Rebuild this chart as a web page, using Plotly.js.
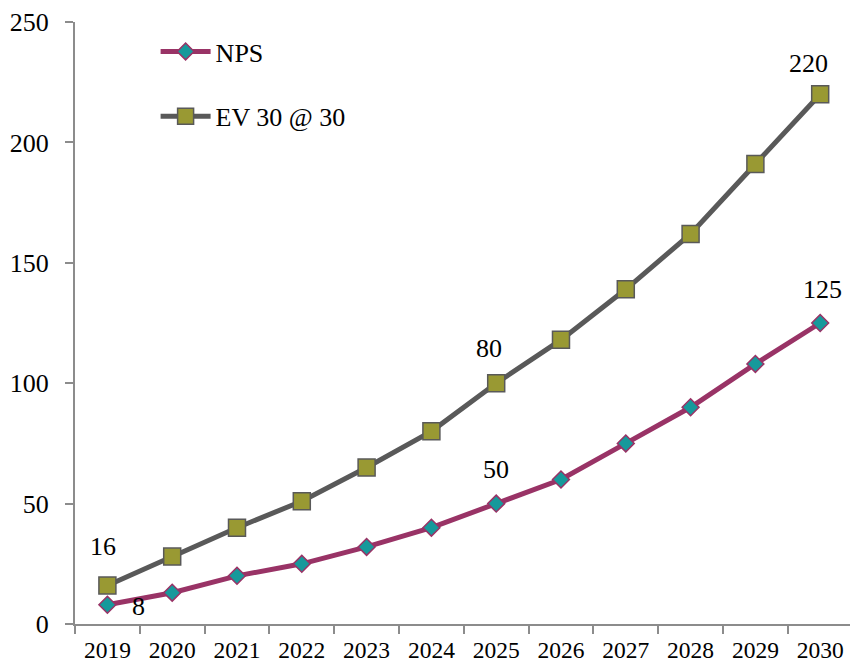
<!DOCTYPE html>
<html>
<head>
<meta charset="utf-8">
<script src="https://cdn.plot.ly/plotly-3.0.1.min.js"></script>
<style>html,body{margin:0;padding:0;background:#fff;}#chart{width:850px;height:665px;}</style>
</head>
<body>
<div id="chart"></div>
<script>
const years = ["2019","2020","2021","2022","2023","2024","2025","2026","2027","2028","2029","2030"];
const npsValues = [8, 13, 20, 25, 32, 40, 50, 60, 75, 90, 108, 125];
const evValues = [16, 28, 40, 51, 65, 80, 100, 118, 139, 162, 191, 220];
const seriesNames = ["NPS", "EV 30 @ 30"];
// data labels shown on the chart: series index, category, label text
const labelSeries = [1, 0, 1, 0, 1, 0];
const labelYears = ["2019", "2019", "2025", "2025", "2030", "2030"];
const labelTexts = ["16", "8", "80", "50", "220", "125"];
const labelShiftX = [-4, 31, -7, 0, -12, 2];
const labelShiftY = [39, -2, 35, 34, 31, 34];

const FONT = "Liberation Serif, Times New Roman, serif";
const seriesValues = [npsValues, evValues];

const traces = [
  {
    x: years, y: npsValues, name: seriesNames[0], type: "scatter", mode: "lines+markers",
    legendgroup: "a",
    line: {color: "#993366", width: 5},
    marker: {symbol: "diamond", size: 13, color: "#16999b", line: {color: "#993366", width: 1.5}}
  },
  {
    x: years, y: evValues, name: seriesNames[1], type: "scatter", mode: "lines+markers",
    legendgroup: "b",
    line: {color: "#595959", width: 5},
    marker: {symbol: "square", size: 17, color: "#999933", line: {color: "#595959", width: 1.5}}
  }
];

const annotations = labelTexts.map(function (t, i) {
  const idx = years.indexOf(labelYears[i]);
  return {
    x: idx,
    y: seriesValues[labelSeries[i]][idx],
    xref: "x", yref: "y",
    text: t, showarrow: false,
    xanchor: "center", yanchor: "middle",
    xshift: labelShiftX[i], yshift: labelShiftY[i],
    font: {family: FONT, size: 26, color: "#000000"}
  };
});

const layout = {
  width: 850, height: 665,
  margin: {l: 75, r: 0, t: 22, b: 41},
  paper_bgcolor: "#fff", plot_bgcolor: "#fff",
  font: {family: FONT, size: 23, color: "#000"},
  showlegend: true,
  legend: {
    x: 0.104, y: 0.99, xanchor: "left", yanchor: "top",
    bgcolor: "rgba(0,0,0,0)", tracegroupgap: 28,
    traceorder: "grouped", itemwidth: 50,
    font: {family: FONT, size: 26, color: "#000"}
  },
  xaxis: {
    type: "category", range: [-0.5, 11.46],
    showline: true, linecolor: "#8c8c8c", linewidth: 2,
    ticks: "outside", tickson: "boundaries", ticklen: 8, tickwidth: 2, tickcolor: "#8c8c8c",
    showgrid: false, zeroline: false,
    tickfont: {family: FONT, size: 23.5, color: "#000"},
    ticklabelstandoff: 4
  },
  yaxis: {
    range: [0, 250], dtick: 50,
    showline: true, linecolor: "#8c8c8c", linewidth: 2,
    ticks: "outside", ticklen: 8, tickwidth: 2, tickcolor: "#8c8c8c",
    showgrid: false, zeroline: false,
    tickfont: {family: FONT, size: 26, color: "#000"},
    ticklabelstandoff: 11
  },
  annotations: annotations
};

Plotly.newPlot("chart", traces, layout, {displayModeBar: false, staticPlot: true});
</script>
</body>
</html>
